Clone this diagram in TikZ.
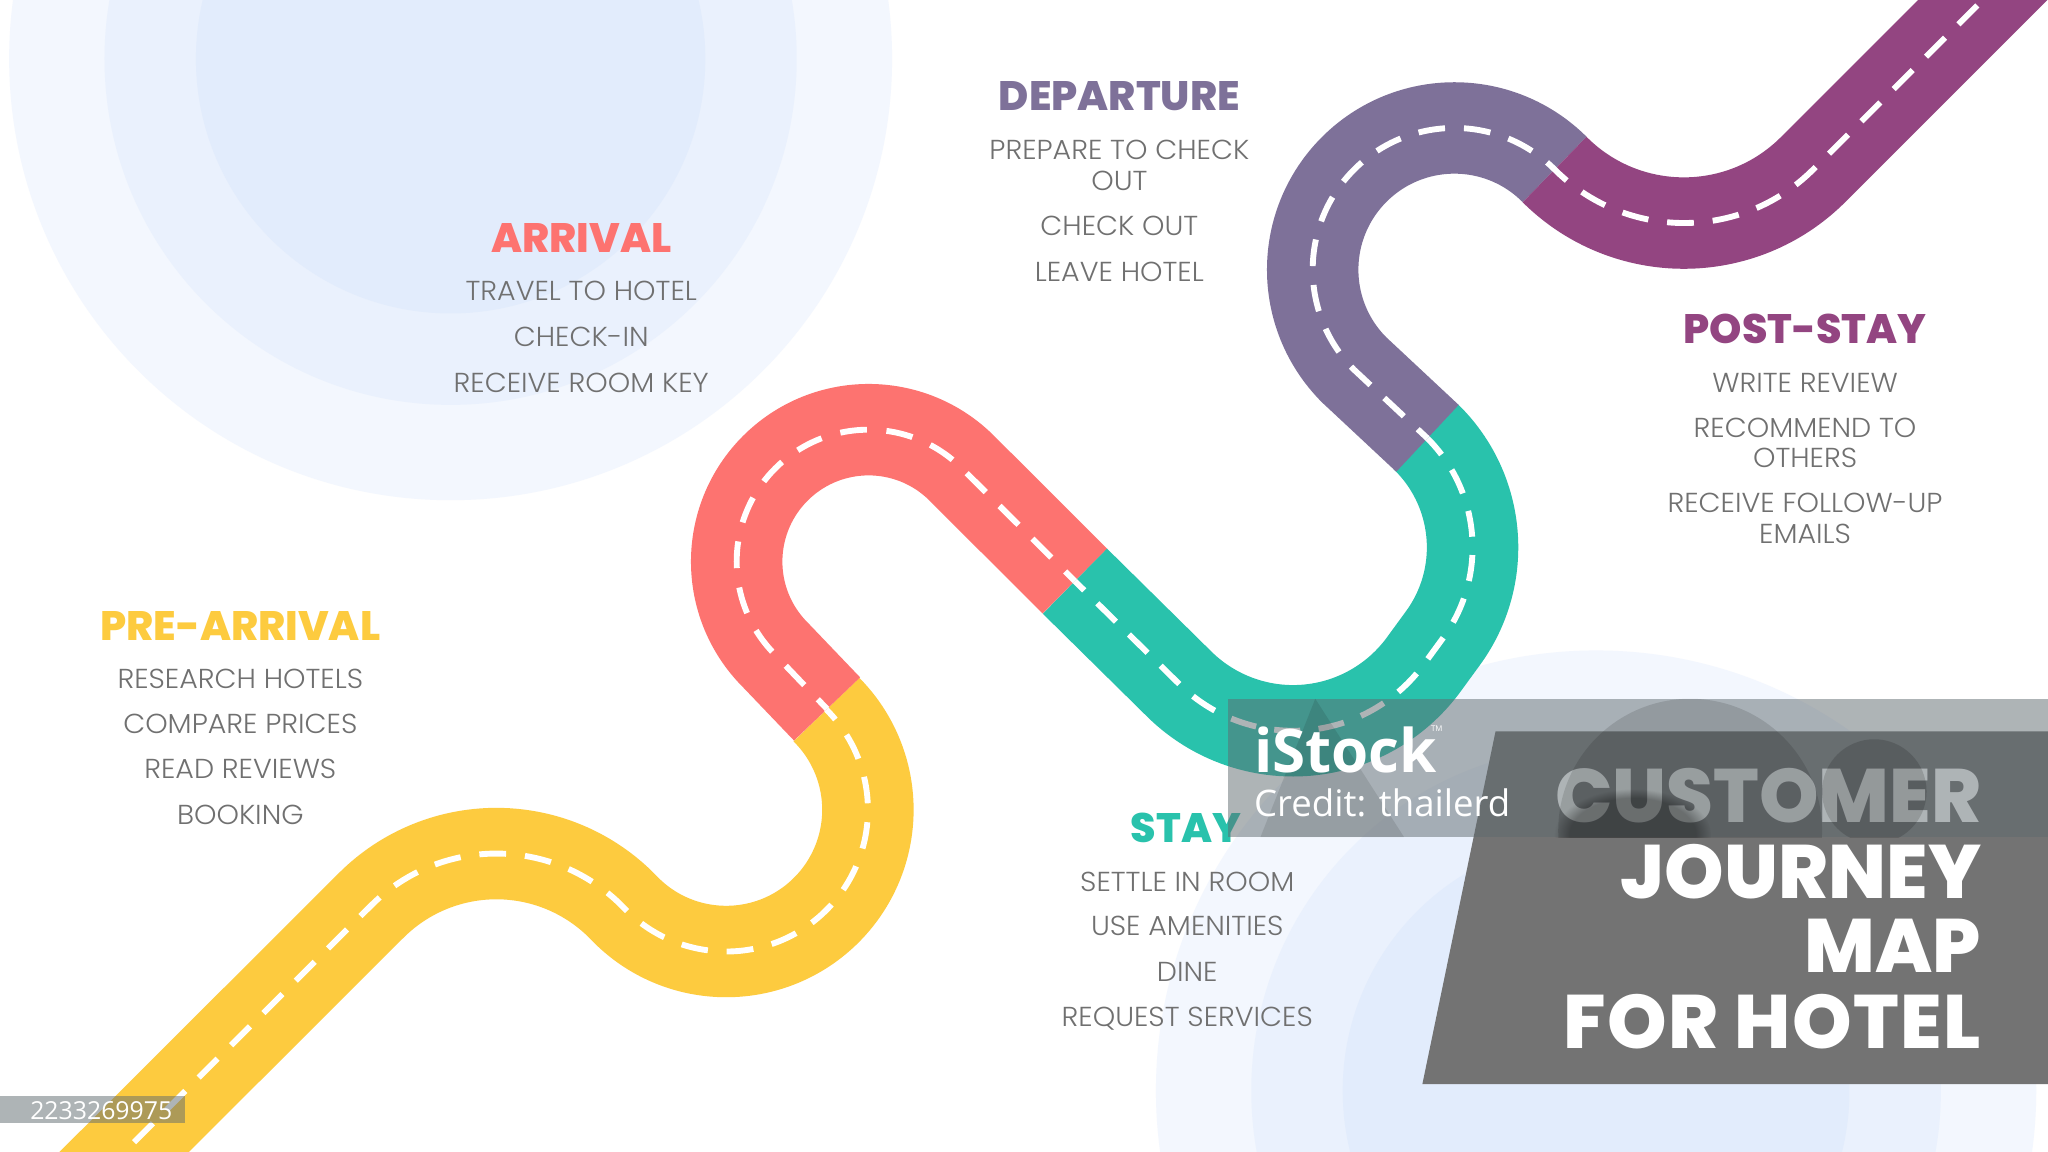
\documentclass[tikz,border=0pt]{standalone}
\usepackage{fontspec}
\usetikzlibrary{fadings}
\setmainfont{Poppins}
\newfontfamily\itemfont[FakeStretch=1.04]{Poppins Light}
\newfontfamily\headfont{Poppins ExtraBold}
\newfontfamily\markfont{Open Sans}
\definecolor{preyellow}{HTML}{FDCB3F}
\definecolor{arrivalred}{HTML}{FD7370}
\definecolor{staygreen}{HTML}{29C2AC}
\definecolor{departslate}{HTML}{7E7199}
\definecolor{postplum}{HTML}{934581}
\definecolor{itemgray}{HTML}{707070}
\definecolor{bandgray}{HTML}{5F6A6F}
\definecolor{softa}{HTML}{F3F7FE}
\definecolor{softb}{HTML}{EAF1FD}
\definecolor{softc}{HTML}{E2ECFC}
\tikzset{
  road/.style={line width=70pt,line join=round},
  lane/.style={white,line width=4.5pt,line join=round},
  heading/.style={font=\headfont\fontsize{31.5}{36}\selectfont},
  item/.style={font=\itemfont\fontsize{21}{23.5}\selectfont,text=itemgray,align=center,inner sep=0pt},
  titleline/.style={font=\headfont\fontsize{58}{60}\selectfont,text=white,anchor=east,inner sep=0pt}
}
\begin{document}
\begin{tikzpicture}[x=1pt,y=1pt]
\useasboundingbox (0,0) rectangle (1568,882);
\clip (0,0) rectangle (1568,882);
\fill[white] (0,0) rectangle (1568,882);
% soft circles behind the road
\fill[softa] (345,837) circle (338);
\fill[softb] (345,837) circle (265);
\fill[softc] (345,837) circle (195);
\fill[softa] (1222,47) circle (337);
\fill[softb] (1222,47) circle (264);
\fill[softc] (1222,47) circle (194);
% road sections
\draw[road,preyellow] (55,-40) -- (284.2,188.8) arc[start angle=135,end angle=43.84,radius=135.5]
  arc[start angle=223.84,end angle=405,radius=108.5];
\draw[road,arrivalred] (633.2,339.2) -- (593.6,380.6) arc[start angle=225,end angle=45,radius=101] -- (823,437);
\draw[road,staygreen] (823,437) -- (902.3,358.8) arc[start angle=225,end angle=323.8,radius=124]
  -- ++(14.6,20) arc[start angle=323.8,end angle=406,radius=118];
\draw[road,departslate] (1092.9,546.4) -- (1036.8,598.8) arc[start angle=225,end angle=45,radius=108.5];
\draw[road,postplum] (1190.2,752.2) arc[start angle=225,end angle=315,radius=140] -- (1620,984);
% dashes along the middle, one dash centred on each colour change
\draw[lane,dash pattern=on 20.5pt off 14.5pt,dash phase=2.75pt] (55,-40) -- (284.2,188.8)
  arc[start angle=135,end angle=43.84,radius=135.5] arc[start angle=223.84,end angle=405,radius=108.5];
\draw[lane,dash pattern=on 20.5pt off 14.97pt,dash phase=10.25pt] (633.2,339.2) -- (593.6,380.6)
  arc[start angle=225,end angle=45,radius=101] -- (823,437);
\draw[lane,dash pattern=on 20pt off 14.05pt,dash phase=10pt] (823,437) -- (902.3,358.8)
  arc[start angle=225,end angle=323.8,radius=124] -- ++(14.6,20) arc[start angle=323.8,end angle=405,radius=118];
\draw[lane,dash pattern=on 20.5pt off 14.5pt,dash phase=10.25pt] (1092.9,546.4) -- (1036.8,598.8)
  arc[start angle=225,end angle=45,radius=108.5] arc[start angle=225,end angle=315,radius=140] -- (1620,984);
% labels
\node[heading,text=preyellow] (prearrival) at (184,403) {PRE-ARRIVAL};
\node[item] (prearrival1) at (184,362) {RESEARCH HOTELS};
\node[item] (prearrival2) at (184,328) {COMPARE PRICES};
\node[item] (prearrival3) at (184,293) {READ REVIEWS};
\node[item] (prearrival4) at (184,258) {BOOKING};
\node[heading,text=arrivalred] (arrival) at (445,700) {ARRIVAL};
\node[item] (arrival1) at (445,659) {TRAVEL TO HOTEL};
\node[item] (arrival2) at (445,624) {CHECK-IN};
\node[item] (arrival3) at (445,589) {RECEIVE ROOM KEY};
\node[heading,text=departslate] (departure) at (857,808) {DEPARTURE};
\node[item] (departure1) at (857,755.5) {PREPARE TO CHECK\\OUT};
\node[item] (departure2) at (857,709) {CHECK OUT};
\node[item] (departure3) at (857,674) {LEAVE HOTEL};
\node[heading,text=staygreen] (stay) at (908,248) {STAY};
\node[item] (stay1) at (909,207) {SETTLE IN ROOM};
\node[item] (stay2) at (909,173) {USE AMENITIES};
\node[item] (stay3) at (909,138) {DINE};
\node[item] (stay4) at (909,102) {REQUEST SERVICES};
\node[heading,text=postplum] (poststay) at (1382,630) {POST-STAY};
\node[item] (poststay1) at (1382,589) {WRITE REVIEW};
\node[item] (poststay2) at (1382,543) {RECOMMEND TO\\OTHERS};
\node[item] (poststay3) at (1382,485) {RECEIVE FOLLOW-UP\\EMAILS};
% title panel
\fill[black!55] (1145,322) -- (1568,322) -- (1568,52) -- (1089,52) -- cycle;
\node[titleline] (title1) at (1517,273) {CUSTOMER};
\node[titleline] (title2) at (1517,215) {JOURNEY};
\node[titleline] (title3) at (1517,158) {MAP};
\node[titleline] (title4) at (1517,100) {\addfontfeature{LetterSpace=2}FOR HOTEL};
% stock band
\fill[bandgray,opacity=0.5] (940,347) rectangle (1568,241);
\begin{scope}
\clip (940,347) rectangle (1568,241);
\fill[black,opacity=0.12] (1294,246) circle (101);
\fill[black,opacity=0.15] (1435,276) circle (40);
\fill[black,opacity=0.3,path fading=circle with fuzzy edge 20 percent] (1250,243) ellipse (60 and 35);
\fill[black,opacity=0.1] (1007,347) -- (1075,241) -- (965,241) -- cycle;
\end{scope}
\node[font=\markfont\fontsize{46}{50}\selectfont\bfseries,text=white,anchor=west,inner sep=0pt] (stockname) at (960,308) {iStock};
\node[font=\markfont\fontsize{6}{7}\selectfont,text=white,inner sep=0pt] (stocktm) at (1100,324) {TM};
\node[font=\markfont\fontsize{28}{30}\selectfont,text=white,anchor=west,inner sep=0pt] (stockcredit) at (960,267) {Credit: thailerd};
\fill[bandgray,opacity=0.5] (0,22) rectangle (142,43);
\node[font=\markfont\fontsize{19}{22}\selectfont,text=white,anchor=west,inner sep=0pt] (stockid) at (23,32) {2233269975};
\end{tikzpicture}
\end{document}
